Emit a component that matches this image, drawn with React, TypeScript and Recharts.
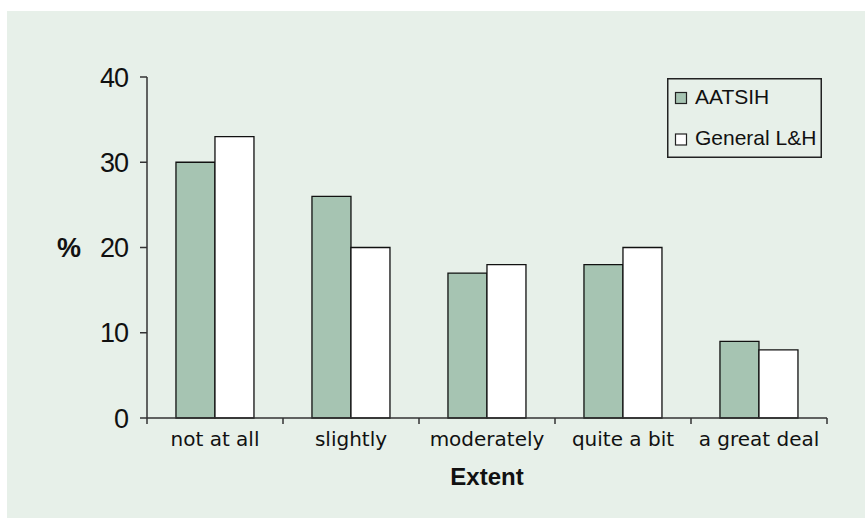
import React from "react";
import { BarChart, Bar, XAxis, YAxis, Legend } from "recharts";

const categories = ["not at all", "slightly", "moderately", "quite a bit", "a great deal"];
const aatsih = [30, 26, 17, 18, 9];
const generalLH = [33, 20, 18, 20, 8];
const yTicks = [0, 10, 20, 30, 40];

const SERIES = [
  { key: "aatsih", name: "AATSIH", color: "#a6c4b2" },
  { key: "general", name: "General L&H", color: "#ffffff" },
];

const data = categories.map((c, i) => ({ cat: c, aatsih: aatsih[i], general: generalLH[i] }));

const BG = "#e7f0e9";
const AXIS = "#333333";

const CatTick = (props: any) => {
  const { x, y, payload, index, visibleTicksCount } = props;
  const off = payload && typeof payload.offset === "number" ? payload.offset : 0;
  const last = index === (visibleTicksCount ?? categories.length) - 1;
  return (
    <g>
      <line x1={x - off} x2={x - off} y1={y - 6} y2={y} stroke={AXIS} strokeWidth={1.5} />
      {last && <line x1={x + off} x2={x + off} y1={y - 6} y2={y} stroke={AXIS} strokeWidth={1.5} />}
      <text x={x} y={y} dy={22} textAnchor="middle" fontFamily="DejaVu Sans" fontSize={20} fill="#111">
        {payload.value}
      </text>
    </g>
  );
};

const LegendBox = () => (
  <div style={{ width: 155, height: 80 }}>
    <svg width={155} height={80} style={{ display: "block" }}>
      <rect x={0.75} y={0.75} width={153.5} height={78.5} fill={BG} stroke="#222" strokeWidth={1.5} />
      {SERIES.map((s, i) => (
        <g key={s.key}>
          <rect x={8.5} y={14.5 + i * 41.5} width={11} height={11} fill={s.color} stroke="#222" strokeWidth={1.2} />
          <text x={28} y={26 + i * 41} fontFamily="Liberation Sans, Arial" fontSize={21} fill="#111">
            {s.name}
          </text>
        </g>
      ))}
    </svg>
  </div>
);

export default function App() {
  return (
    <div style={{ position: "absolute", left: 0, top: 0, width: 865, height: 518, background: "#ffffff" }}>
      <div style={{ position: "absolute", left: 7, top: 11, width: 858, height: 507, background: BG }} />
      <div style={{ position: "absolute", left: 0, top: 0 }}>
        <BarChart
          width={865}
          height={518}
          data={data}
          margin={{ top: 77, right: 38, bottom: 0, left: 0 }}
          barCategoryGap="21.3%"
          barGap={0}
        >
          <XAxis
            dataKey="cat"
            height={100}
            tickLine={false}
            tickSize={6}
            tickMargin={0}
            axisLine={{ stroke: AXIS, strokeWidth: 1.5 }}
            tick={<CatTick />}
            interval={0}
            label={{
              value: "Extent",
              position: "insideBottom",
              offset: 33,
              fontFamily: "Liberation Sans, Arial",
              fontWeight: "bold",
              fontSize: 24,
              fill: "#111",
            }}
          />
          <YAxis
            width={147}
            domain={[0, 40]}
            ticks={yTicks}
            interval={0}
            tickSize={7}
            tickMargin={12}
            axisLine={{ stroke: AXIS, strokeWidth: 1.5 }}
            tickLine={{ stroke: AXIS, strokeWidth: 1.5 }}
            tick={{ fontFamily: "Liberation Sans, Arial", fontSize: 27, fill: "#111", letterSpacing: -1 }}
            label={{
              value: "%",
              position: "insideLeft",
              offset: 57,
              textAnchor: "start",
              fontFamily: "Liberation Sans, Arial",
              fontWeight: "bold",
              fontSize: 27,
              fill: "#111",
            }}
          />
          <Legend
            layout="horizontal"
            verticalAlign="middle"
            align="center"
            content={<LegendBox />}
            wrapperStyle={{ position: "absolute", left: 667, top: 78, width: 155, height: 80 }}
          />
          {SERIES.map((s) => (
            <Bar
              key={s.key}
              dataKey={s.key}
              name={s.name}
              fill={s.color}
              stroke="#111"
              strokeWidth={1.3}
              isAnimationActive={false}
            />
          ))}
        </BarChart>
      </div>
    </div>
  );
}
